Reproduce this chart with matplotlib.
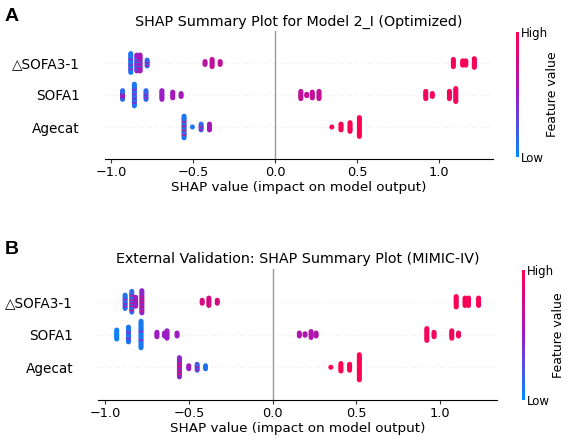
import numpy as np
import matplotlib
matplotlib.use("Agg")
import matplotlib.pyplot as plt
from matplotlib.colors import LinearSegmentedColormap
from matplotlib.cm import ScalarMappable

# ---- data -------------------------------------------------------------
features = ["\u25b3SOFA3-1", "SOFA1", "Agecat"]          # top to bottom

# each cluster: (shap value, n points, main colour level, n alt points, alt colour level)
model_a = {
    "\u25b3SOFA3-1": [(-0.880, 14, 0.08, 3, 0.50), (-0.843, 12, 0.50, 4, 0.10),
                      (-0.823, 12, 0.55, 2, 0.20), (-0.780, 5, 0.15, 2, 0.50),
                      (-0.427, 3, 0.65, 0, 0), (-0.384, 6, 0.68, 0, 0), (-0.335, 3, 0.68, 0, 0),
                      (1.087, 6, 0.96, 0, 0), (1.144, 4, 0.96, 0, 0), (1.163, 4, 0.96, 0, 0),
                      (1.215, 7, 0.96, 0, 0)],
    "SOFA1": [(-0.930, 7, 0.15, 3, 0.50), (-0.858, 16, 0.10, 4, 0.50),
              (-0.787, 7, 0.15, 2, 0.45), (-0.690, 7, 0.50, 0, 0),
              (-0.624, 5, 0.55, 0, 0), (-0.573, 3, 0.55, 0, 0),
              (0.157, 6, 0.70, 0, 0), (0.193, 2, 0.70, 0, 0), (0.227, 5, 0.70, 0, 0),
              (0.268, 6, 0.70, 0, 0),
              (0.919, 6, 0.95, 0, 0), (0.959, 3, 0.95, 0, 0), (1.063, 6, 0.95, 0, 0),
              (1.102, 10, 0.95, 0, 0)],
    "Agecat": [(-0.555, 16, 0.10, 4, 0.75), (-0.504, 1, 0.10, 0, 0),
               (-0.451, 5, 0.15, 2, 0.60), (-0.400, 5, 0.55, 0, 0),
               (0.346, 1, 1.0, 0, 0), (0.402, 5, 1.0, 0, 0), (0.457, 7, 1.0, 0, 0),
               (0.514, 14, 1.0, 0, 0)],
}

mimic = {
    "\u25b3SOFA3-1": [(-0.880, 10, 0.10, 3, 0.50), (-0.840, 15, 0.15, 5, 0.75),
                      (-0.817, 7, 0.50, 0, 0), (-0.780, 16, 0.45, 5, 0.75),
                      (-0.420, 3, 0.80, 0, 0), (-0.380, 6, 0.80, 0, 0), (-0.330, 3, 0.80, 0, 0),
                      (1.096, 8, 0.97, 0, 0), (1.149, 6, 0.97, 0, 0), (1.170, 6, 0.97, 0, 0),
                      (1.230, 6, 0.97, 0, 0)],
    "SOFA1": [(-0.930, 7, 0.05, 0, 0), (-0.860, 11, 0.10, 2, 0.50),
              (-0.785, 19, 0.08, 2, 0.50), (-0.690, 4, 0.50, 0, 0),
              (-0.645, 3, 0.50, 0, 0), (-0.630, 6, 0.50, 0, 0), (-0.570, 3, 0.50, 0, 0),
              (0.160, 3, 0.60, 0, 0), (0.194, 2, 0.60, 0, 0), (0.230, 5, 0.60, 0, 0),
              (0.260, 3, 0.60, 0, 0),
              (0.921, 9, 0.95, 0, 0), (0.964, 4, 0.95, 0, 0), (1.070, 6, 0.95, 0, 0),
              (1.110, 3, 0.95, 0, 0)],
    "Agecat": [(-0.556, 14, 0.45, 4, 0.80), (-0.500, 3, 0.50, 0, 0),
               (-0.450, 5, 0.20, 2, 0.50), (-0.400, 3, 0.10, 0, 0),
               (0.348, 1, 1.0, 0, 0), (0.408, 6, 1.0, 0, 0), (0.460, 5, 1.0, 0, 0),
               (0.518, 18, 1.0, 0, 0)],
}

xticks = [-1.0, -0.5, 0.0, 0.5, 1.0]

# shap-like red/blue colormap
cmap = LinearSegmentedColormap.from_list("shap_rb", ["#008bfb", "#9b1bc4", "#ff0052"])

plt.rcParams['font.family'] = ['DejaVu Sans']


def beeswarm(ax, data, title, xlim):
    step = 0.045
    nf = len(features)
    for i, f in enumerate(features):
        ypos = nf - 1 - i
        ax.axhline(ypos, color="#cccccc", lw=0.5, dashes=(1, 5), zorder=-1)
        xs, ys, cs = [], [], []
        for x, n, c, na, ca in data[f]:
            cols = [c] * n
            if na > 0:
                idx = np.round(np.linspace(0, n - 1, na + 2)[1:-1]).astype(int)
                for k in idx:
                    cols[k] = ca
            offs = (np.arange(n) - (n - 1) / 2.0) * step
            xs += [x] * n
            ys += list(ypos + offs)
            cs += cols
        ax.scatter(xs, ys, c=cs, cmap=cmap, vmin=0, vmax=1, s=13, linewidths=0, zorder=3)
    ax.axvline(0, color="#999999", lw=1, zorder=-1)
    ax.set_ylim(-1, nf)
    ax.set_xlim(*xlim)
    ax.set_yticks(range(nf))
    ax.set_yticklabels(features[::-1], fontsize=9.8)
    ax.set_xticks(xticks)
    ax.tick_params(axis="x", labelsize=9.3, length=3, pad=2, color="#333333")
    ax.tick_params(axis="y", length=0, pad=18)
    for s in ["top", "right", "left"]:
        ax.spines[s].set_visible(False)
    ax.set_xlabel("SHAP value (impact on model output)", fontsize=9.7, labelpad=1.5)
    ax.set_title(title, fontsize=10.3, pad=4)


def colorbar(fig, rect):
    cax = fig.add_axes(rect)
    sm = ScalarMappable(cmap=cmap)
    sm.set_array([0, 1])
    sm.set_clim(0, 1)
    cb = fig.colorbar(sm, cax=cax, ticks=[0, 1])
    cb.set_ticklabels(["Low", "High"])
    cb.outline.set_visible(False)
    cb.ax.tick_params(labelsize=8.5, length=0, pad=2)
    cb.set_label("Feature value", fontsize=9, labelpad=-2)


fig = plt.figure(figsize=(5.67, 4.42), dpi=100)
W, H = 567.0, 442.0

ax1 = fig.add_axes([105 / W, 1 - 159 / H, (492.7 - 105) / W, 128 / H])
beeswarm(ax1, model_a, "SHAP Summary Plot for Model 2_I (Optimized)", (-1.037, 1.327))
colorbar(fig, [516 / W, 1 - 157 / H, 2.5 / W, 125 / H])

ax2 = fig.add_axes([98.3 / W, 1 - 400 / H, (496.7 - 98.3) / W, 131 / H])
beeswarm(ax2, mimic, "External Validation: SHAP Summary Plot (MIMIC-IV)", (-1.04, 1.338))
colorbar(fig, [522 / W, 1 - 400 / H, 2.5 / W, 130 / H])

fig.text(5 / W, 1 - 21 / H, "A", fontsize=14, fontweight="bold", family="Liberation Sans")
fig.text(5 / W, 1 - 254 / H, "B", fontsize=14, fontweight="bold", family="Liberation Sans")

fig.savefig("out.png", dpi=100)
